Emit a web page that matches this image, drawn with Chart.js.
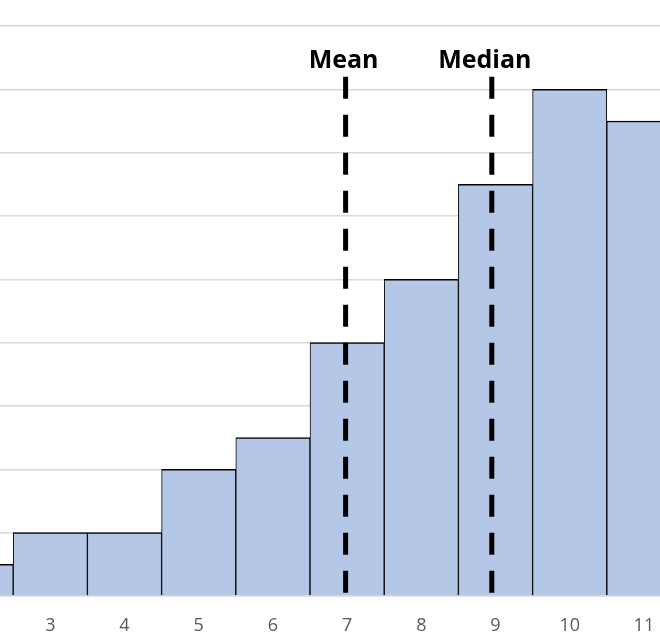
<!DOCTYPE html>
<html>
<head>
<meta charset="utf-8">
<script src="https://cdn.jsdelivr.net/npm/chart.js@4/dist/chart.umd.min.js"></script>
<style>
  html, body { margin: 0; padding: 0; background: #ffffff; }
  body { width: 660px; height: 641px; overflow: hidden; position: relative; }
  #c { position: absolute; left: -61px; top: 0; }
</style>
</head>
<body>
<canvas id="c" width="742" height="641"></canvas>
<script>
// ---- data ----
const categories = ['2', '3', '4', '5', '6', '7', '8', '9', '10', '11'];
const counts = [1, 2, 2, 4, 5, 8, 10, 13, 16, 15];
const yMax = 18;
const yStep = 2;
const markerNames = ['Mean', 'Median'];
const markerValues = [6.98, 8.95];
const markerTop = 16.4;

const firstCat = Number(categories[0]);

const markerPlugin = {
  id: 'markers',
  afterDatasetsDraw(chart, args, opts) {
    const ctx = chart.ctx;
    const xs = chart.scales.x, ys = chart.scales.y;
    const yTop = ys.getPixelForValue(markerTop);
    const yBot = ys.getPixelForValue(0);
    ctx.save();
    markerValues.forEach((v, i) => {
      const px = xs.getPixelForValue(v - firstCat);
      ctx.beginPath();
      ctx.setLineDash(opts.dash);
      ctx.lineWidth = opts.lineWidth;
      ctx.strokeStyle = opts.color;
      ctx.lineCap = 'butt';
      ctx.moveTo(px, yTop);
      ctx.lineTo(px, yBot);
      ctx.stroke();
      ctx.setLineDash([]);
      ctx.fillStyle = opts.color;
      ctx.font = opts.font;
      ctx.textAlign = 'center';
      ctx.textBaseline = 'alphabetic';
      ctx.fillText(markerNames[i], px + opts.labelDx[i], yTop - opts.labelGap);
    });
    ctx.restore();
  }
};

new Chart(document.getElementById('c'), {
  type: 'bar',
  data: {
    labels: categories,
    datasets: [{
      data: counts,
      backgroundColor: '#b4c7e7',
      borderColor: '#000000',
      borderWidth: { top: 1.5, left: 1, right: 1, bottom: 0 },
      borderSkipped: false,
      barPercentage: 1,
      categoryPercentage: 1
    }]
  },
  options: {
    responsive: false,
    animation: false,
    devicePixelRatio: 1,
    layout: { padding: { top: 26, left: 0, right: 0, bottom: 0 } },
    plugins: {
      legend: { display: false },
      tooltip: { enabled: false },
      markers: {
        dash: [22, 16],
        lineWidth: 5,
        color: '#000000',
        font: 'bold 25px "Open Sans"',
        labelDx: [-2, -7],
        labelGap: 9
      }
    },
    scales: {
      x: {
        offset: true,
        grid: { display: false, drawTicks: false },
        border: { display: true, color: '#d9d9d9', width: 1.5 },
        ticks: {
          color: '#595959',
          font: { family: 'Open Sans', size: 18 },
          padding: 19,
          maxRotation: 0,
          autoSkip: false
        },
        afterFit(s) { s.height = 45; }
      },
      y: {
        min: 0,
        max: yMax,
        ticks: { display: false, stepSize: yStep },
        grid: { color: '#d9d9d9', lineWidth: 1.5, drawTicks: false },
        border: { display: false },
        afterFit(s) { s.width = 0; }
      }
    }
  },
  plugins: [markerPlugin]
});
</script>
</body>
</html>
